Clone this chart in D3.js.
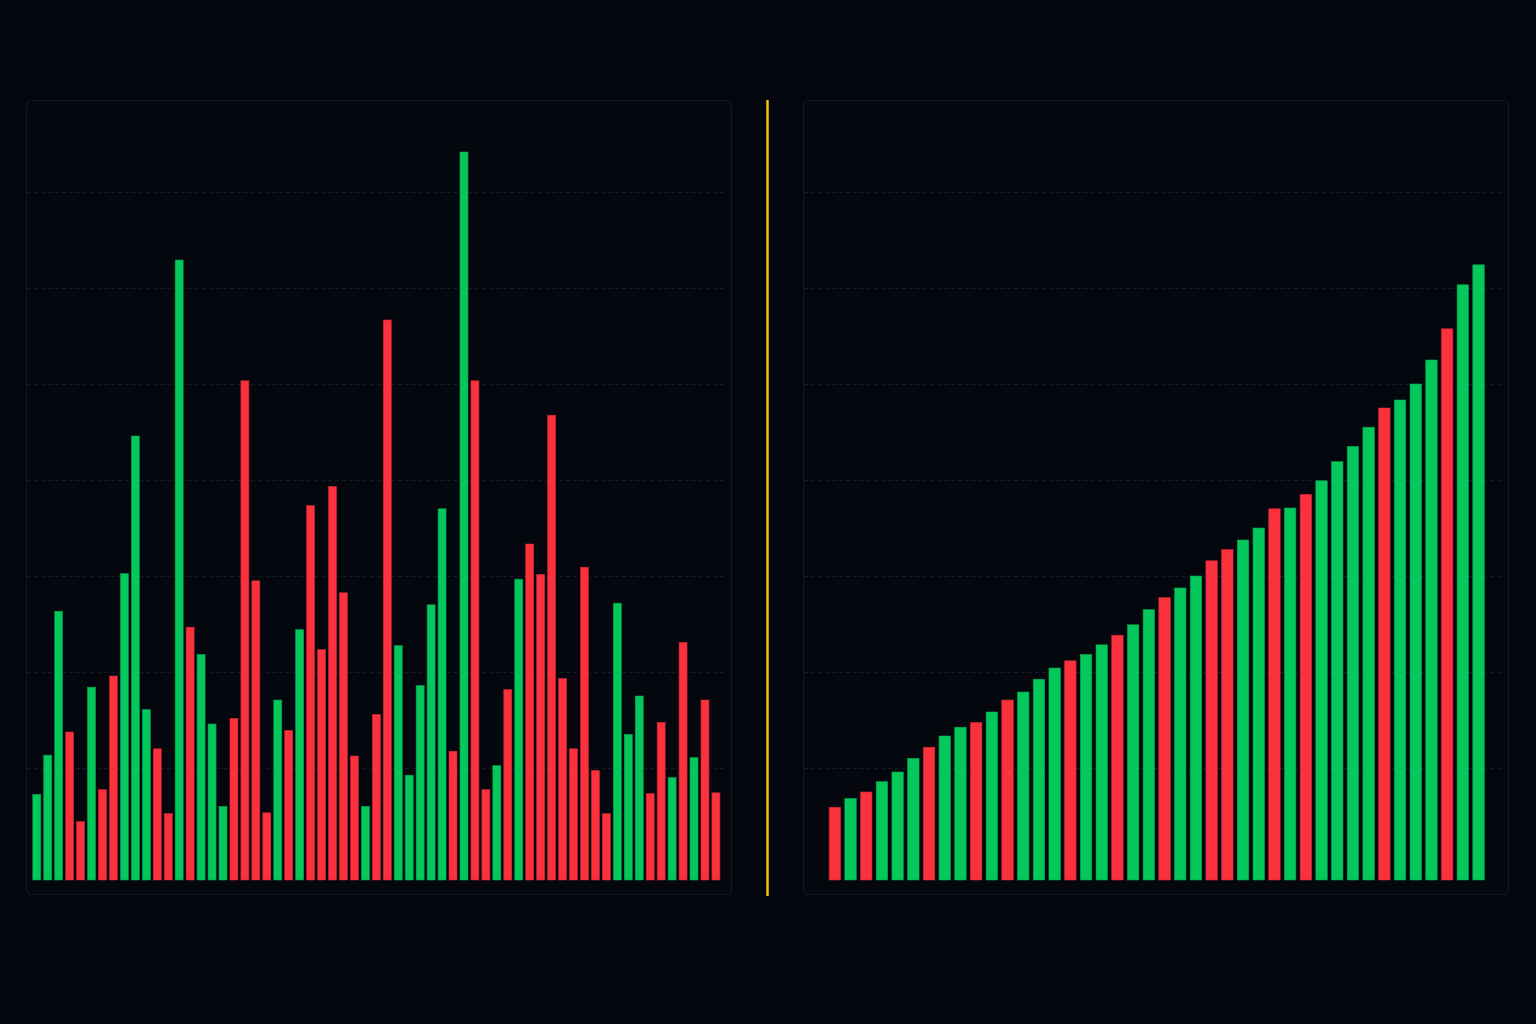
<!DOCTYPE html>
<html>
<head>
<meta charset="utf-8">
<script src="https://cdn.jsdelivr.net/npm/d3@7"></script>
<style>
  html, body { margin: 0; padding: 0; background: #03060c; }
  svg { display: block; }
</style>
</head>
<body>
<svg id="chart" width="1536" height="1024"></svg>
<script>
// ---- data ----
const leftValues = [10.7, 15.6, 33.6, 18.5, 7.3, 24.1, 11.3, 25.5, 38.3, 55.5,
  21.3, 16.4, 8.3, 77.5, 31.6, 28.2, 19.5, 9.2, 20.2, 62.4,
  37.4, 8.4, 22.5, 18.7, 31.3, 46.8, 28.8, 49.2, 35.9, 15.5,
  9.2, 20.7, 70.0, 29.3, 13.1, 24.3, 34.4, 46.4, 16.1, 91.0,
  62.4, 11.3, 14.3, 23.8, 37.6, 42.0, 38.2, 58.1, 25.2, 16.4,
  39.1, 13.7, 8.3, 34.6, 18.2, 23.0, 10.8, 19.7, 12.8, 29.7,
  15.3, 22.5, 10.9];
const leftDirections = ["up","up","up","down","down","up","down","down","up","up",
  "up","down","down","up","down","up","up","up","down","down",
  "down","down","up","down","up","down","down","down","down","down",
  "up","down","down","up","up","up","up","up","down","up",
  "down","down","up","down","up","down","down","down","down","down",
  "down","down","down","up","up","up","down","down","up","down",
  "up","down","down"];
const rightValues = [9.1, 10.2, 11.0, 12.3, 13.5, 15.2, 16.6, 18.0, 19.1, 19.7,
  21.0, 22.5, 23.5, 25.1, 26.5, 27.4, 28.2, 29.4, 30.6, 31.9,
  33.8, 35.3, 36.5, 38.0, 39.9, 41.3, 42.5, 44.0, 46.4, 46.5,
  48.2, 49.9, 52.3, 54.2, 56.6, 59.0, 60.0, 62.0, 65.0, 68.9,
  74.4, 76.9];
const rightDirections = ["down","up","down","up","up","up","down","up","up","down",
  "up","down","up","up","up","down","up","up","down","up",
  "up","down","up","up","down","down","up","up","down","up",
  "down","up","up","up","up","down","up","up","up","down",
  "up","up"];
const gridValues = [14, 26, 38, 50, 62, 74, 86];

// ---- styles ----
const colors = { up: "#05c85c", down: "#fb323e" };
const strokes = { up: "#03a24a", down: "#c92530" };

const svg = d3.select("#chart");
svg.append("rect").attr("width", 1536).attr("height", 1024).attr("fill", "#03060c");

const y = d3.scaleLinear().domain([0, 100]).range([880, 80]);

function panel(values, dirs, px, range) {
  const g = svg.append("g");
  g.append("rect")
    .attr("x", px + 0.5).attr("y", 100.5)
    .attr("width", 705).attr("height", 794)
    .attr("rx", 5)
    .attr("fill", "#04070e")
    .attr("stroke", "#121823").attr("stroke-width", 1.2);
  g.selectAll("line.grid").data(gridValues).enter().append("line")
    .attr("class", "grid")
    .attr("x1", px + 1).attr("x2", px + 700)
    .attr("y1", d => Math.round(y(d)) + 0.5).attr("y2", d => Math.round(y(d)) + 0.5)
    .attr("stroke", "#151b27").attr("stroke-width", 1)
    .attr("stroke-dasharray", "4,3");
  const x = d3.scaleBand().domain(d3.range(values.length))
    .range(range).paddingInner(0.27).paddingOuter(0.135);
  g.selectAll("rect.bar").data(values).enter().append("rect")
    .attr("class", "bar")
    .attr("x", (d, i) => x(i))
    .attr("width", x.bandwidth())
    .attr("y", d => y(d))
    .attr("height", d => y(0) - y(d))
    .attr("fill", (d, i) => colors[dirs[i]])
    .attr("stroke", (d, i) => strokes[dirs[i]])
    .attr("stroke-width", 0.6);
}

panel(leftValues, leftDirections, 26, [31.3, 721.4]);
panel(rightValues, rightDirections, 803, [827, 1486.4]);

// divider
svg.append("line")
  .attr("x1", 767.5).attr("x2", 767.5)
  .attr("y1", 100).attr("y2", 896)
  .attr("stroke", "#f7c400").attr("stroke-width", 2.5);
</script>
</body>
</html>
